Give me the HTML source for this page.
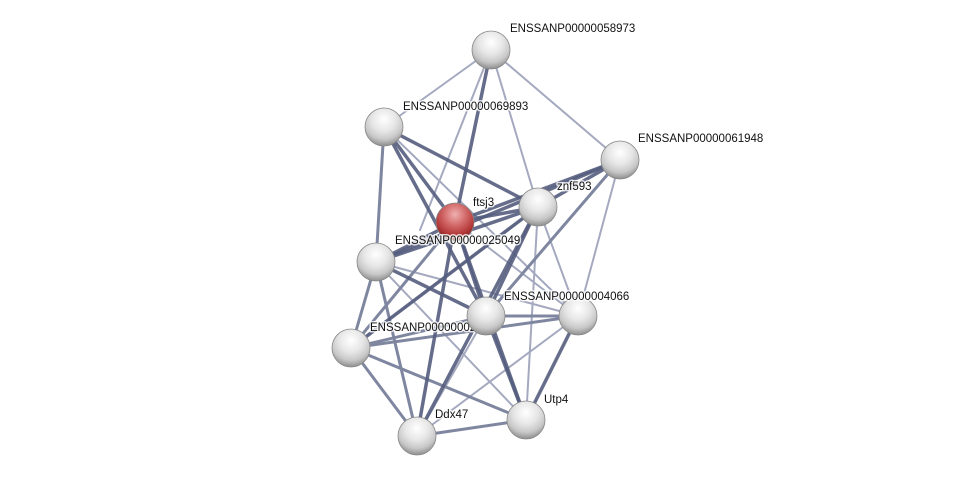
<!DOCTYPE html>
<html><head><meta charset="utf-8"><style>
html,body{margin:0;padding:0;background:#fff;width:975px;height:481px;overflow:hidden}
text{font-family:"Liberation Sans",sans-serif;font-size:11.5px;fill:#111;stroke:#fff;stroke-width:3px;stroke-opacity:0.8;paint-order:stroke;stroke-linejoin:round}
</style></head><body>
<svg width="975" height="481" viewBox="0 0 975 481">
<defs>
<radialGradient id="g" cx="50%" cy="30%" r="70%">
<stop offset="0" stop-color="#ffffff"/><stop offset="0.45" stop-color="#e6e6e6"/><stop offset="0.75" stop-color="#c8c8c8"/><stop offset="1" stop-color="#8e8e8e"/></radialGradient>
<radialGradient id="r" cx="50%" cy="30%" r="70%">
<stop offset="0" stop-color="#f0b0b0"/><stop offset="0.45" stop-color="#d06464"/><stop offset="0.75" stop-color="#b43a3a"/><stop offset="1" stop-color="#7a1c1c"/></radialGradient>
</defs>
<g stroke-linecap="round">
<g stroke="#a4a9bf" stroke-width="2">
<line x1="491" y1="50" x2="384" y2="127"/>
<line x1="491" y1="50" x2="620" y2="160"/>
<line x1="491" y1="50" x2="538" y2="207"/>
<line x1="491" y1="50" x2="420" y2="230"/>
<line x1="384" y1="127" x2="578" y2="316"/>
<line x1="620" y1="160" x2="578" y2="316"/>
<line x1="376" y1="262" x2="578" y2="316"/>
<line x1="351" y1="348" x2="538" y2="207"/>
<line x1="455" y1="222" x2="578" y2="316"/>
<line x1="486" y1="316" x2="417" y2="436"/>
<line x1="538" y1="207" x2="526" y2="420"/>
<line x1="578" y1="316" x2="417" y2="436"/>
<line x1="376" y1="262" x2="526" y2="420"/>
<line x1="538" y1="207" x2="578" y2="316"/>
</g>
<g stroke="#7f86a0" stroke-width="3">
<line x1="384" y1="127" x2="376" y2="262"/>
<line x1="376" y1="262" x2="351" y2="348"/>
<line x1="351" y1="348" x2="578" y2="316"/>
<line x1="486" y1="316" x2="578" y2="316"/>
<line x1="455" y1="222" x2="351" y2="348"/>
<line x1="620" y1="160" x2="486" y2="316"/>
<line x1="351" y1="348" x2="417" y2="436"/>
<line x1="351" y1="348" x2="526" y2="420"/>
<line x1="417" y1="436" x2="526" y2="420"/>
<line x1="376" y1="262" x2="417" y2="436"/>
<line x1="486" y1="316" x2="351" y2="348"/>
</g>
<g stroke="#555d7e" stroke-width="3.5" stroke-opacity="0.9">
<line x1="491" y1="50" x2="455" y2="222"/>
<line x1="384" y1="127" x2="538" y2="207"/>
<line x1="384" y1="127" x2="455" y2="222"/>
<line x1="384" y1="127" x2="486" y2="316"/>
<line x1="620" y1="160" x2="538" y2="207"/>
<line x1="620" y1="160" x2="455" y2="222"/>
<line x1="620" y1="160" x2="376" y2="262"/>
<line x1="455" y1="222" x2="538" y2="207"/>
<line x1="455" y1="222" x2="376" y2="262"/>
<line x1="455" y1="222" x2="486" y2="316"/>
<line x1="455" y1="222" x2="417" y2="436"/>
<line x1="455" y1="222" x2="526" y2="420"/>
<line x1="538" y1="207" x2="376" y2="262"/>
<line x1="538" y1="207" x2="486" y2="316"/>
<line x1="538" y1="207" x2="417" y2="436"/>
<line x1="376" y1="262" x2="486" y2="316"/>
<line x1="486" y1="316" x2="526" y2="420"/>
<line x1="578" y1="316" x2="526" y2="420"/>
<line x1="538" y1="207" x2="351" y2="348"/>
</g>
</g>
<g stroke="#888" stroke-width="0.8">
<circle cx="491" cy="50" r="19" fill="url(#g)"/>
<circle cx="384" cy="127" r="19" fill="url(#g)"/>
<circle cx="620" cy="160" r="19" fill="url(#g)"/>
<circle cx="538" cy="207" r="19" fill="url(#g)"/>
<circle cx="455" cy="222" r="19" fill="url(#r)"/>
<circle cx="376" cy="262" r="19" fill="url(#g)"/>
<circle cx="578" cy="316" r="19" fill="url(#g)"/>
<circle cx="351" cy="348" r="19" fill="url(#g)"/>
</g>
<text x="370" y="331">ENSSANP00000002</text>
<g stroke="#888" stroke-width="0.8">
<circle cx="486" cy="316" r="19" fill="url(#g)"/>
<circle cx="417" cy="436" r="19" fill="url(#g)"/>
<circle cx="526" cy="420" r="19" fill="url(#g)"/>
</g>
<text x="510" y="32">ENSSANP00000058973</text>
<text x="403" y="110">ENSSANP00000069893</text>
<text x="638" y="142">ENSSANP00000061948</text>
<text x="557" y="190">znf593</text>
<text x="473" y="206">ftsj3</text>
<text x="395" y="244">ENSSANP00000025049</text>
<text x="504" y="300">ENSSANP00000004066</text>
<text x="435" y="418">Ddx47</text>
<text x="544" y="403">Utp4</text>
</svg>
</body></html>
